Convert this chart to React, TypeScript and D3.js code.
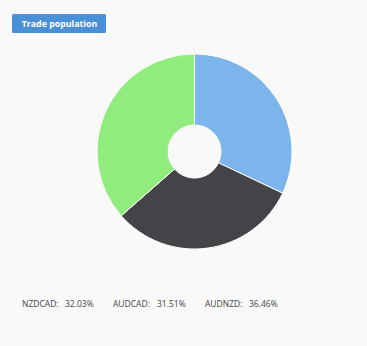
import React from "react";
import * as d3 from "d3";

const labels = ["NZDCAD", "AUDCAD", "AUDNZD"];
const values = [32.03, 31.51, 36.46];
const colors = ["#7cb5ec", "#434348", "#90ed7d"];
const title = "Trade population";

export default function App() {
  const W = 367, H = 346;
  const cx = 194.5, cy = 151.5, R = 97.5, r = 26.5;
  const pie = d3.pie<number>().sort(null).value((d) => d)(values);
  const arc = d3.arc<d3.PieArcDatum<number>>().innerRadius(r).outerRadius(R);
  const legendX = [22, 113, 205];
  const valX = [65, 157, 249];
  const font = "'Open Sans', 'DejaVu Sans', sans-serif";
  return (
    <div style={{ position: "absolute", left: 0, top: 0, width: W, height: H }}>
      <svg width={W} height={H} style={{ display: "block", background: "#f9f9f9" }}>
        <rect x={12} y={14} width={94} height={19} rx={1.5} fill="#4a90d9" />
        <text x={59.5} y={27} textAnchor="middle" fill="#fff" fontFamily={font} fontSize={8.8} fontWeight="bold">
          {title}
        </text>
        <g transform={`translate(${cx},${cy})`}>
          {pie.map((p, i) => (
            <path key={i} d={arc(p) || ""} fill={colors[i]} stroke="#fff" strokeWidth={1} />
          ))}
        </g>
        {labels.map((l, i) => (
          <g key={l} fontFamily={font} fontSize={8.5} fill="#444">
            <text x={legendX[i]} y={306.5}>{l + ":"}</text>
            <text x={valX[i]} y={306.5}>{values[i].toFixed(2) + "%"}</text>
          </g>
        ))}
      </svg>
    </div>
  );
}
